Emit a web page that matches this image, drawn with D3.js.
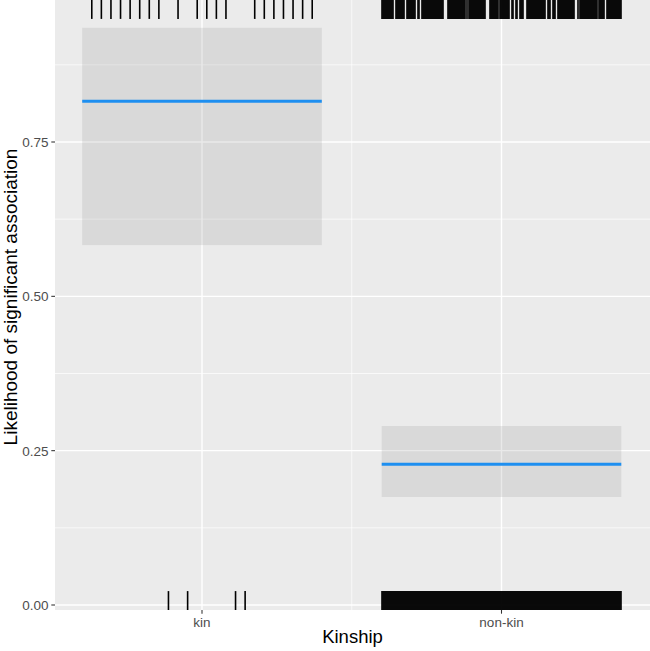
<!DOCTYPE html>
<html>
<head>
<meta charset="utf-8">
<script src="https://cdn.jsdelivr.net/npm/d3@7"></script>
<style>
  html, body { margin: 0; padding: 0; background: #ffffff; }
  svg { display: block; }
  text { font-family: "Liberation Sans", Arial, Helvetica, sans-serif; }
</style>
</head>
<body>
<script>
// ---------------- data ----------------
const categories = ["kin", "non-kin"];
const yTicks = [0, 0.25, 0.5, 0.75];
const yTickLabels = ["0.00", "0.25", "0.50", "0.75"];
const yMinorTicks = [0.125, 0.375, 0.625, 0.875];
const fitValues = [0.816, 0.228];
const ciLower = [0.583, 0.175];
const ciUpper = [0.935, 0.290];
const boxHalfWidth = [0.4, 0.4];
const jitterSpread = [0.368, 0.399];
// one character per jitter slot; "1" = an observation at that slot
const kinOnes  = "111111110101111001111111";
const kinZeros = "000000001010000110000000";
const nonKinOnes =
  "1111111111110011111111100111111111001100" +
  "1111111111111111111111000011111111111111" +
  "1111010111111111111111110000111111111011" +
  "1111111100110011001111000111111111111111" +
  "1111001110011100111111111111111110001011" +
  "1111111111111111011111100111111111111111";
const nonKinZeros =
  "1111111111111111111111111111111111111111" +
  "1111111111111111111111111111111111111111" +
  "1111111111111111111111111111111111111111" +
  "1111111111111111111111111111111111111111" +
  "1111111111111111111111111111111111111111" +
  "1111111111111111111111111111111111111111";
const onesByGroup = [kinOnes, nonKinOnes];
const zerosByGroup = [kinZeros, nonKinZeros];
const xTitle = "Kinship";
const yTitle = "Likelihood of significant association";

// ---------------- layout ----------------
const W = 650, H = 651;
const panel = { left: 55, right: 650, top: 0, bottom: 610 };

const svg = d3.select("body").append("svg")
  .attr("width", W).attr("height", H);

const x = d3.scaleLinear().domain([1, 2]).range([202, 501.5]);
const y = d3.scaleLinear().domain([0, 0.75]).range([605, 142]);

// panel background
svg.append("rect")
  .attr("x", panel.left).attr("y", panel.top)
  .attr("width", panel.right - panel.left)
  .attr("height", panel.bottom - panel.top)
  .attr("fill", "#EBEBEB");

const grid = svg.append("g");
// minor grid
grid.selectAll("line.ymin").data(yMinorTicks).enter().append("line")
  .attr("x1", panel.left).attr("x2", panel.right)
  .attr("y1", d => y(d)).attr("y2", d => y(d))
  .attr("stroke", "#ffffff").attr("stroke-width", 0.7);
grid.append("line")
  .attr("x1", x(1.5)).attr("x2", x(1.5))
  .attr("y1", panel.top).attr("y2", panel.bottom)
  .attr("stroke", "#ffffff").attr("stroke-width", 0.7);
// major grid
grid.selectAll("line.ymaj").data(yTicks).enter().append("line")
  .attr("x1", panel.left).attr("x2", panel.right)
  .attr("y1", d => y(d)).attr("y2", d => y(d))
  .attr("stroke", "#ffffff").attr("stroke-width", 1.4);
grid.selectAll("line.xmaj").data(categories).enter().append("line")
  .attr("x1", (d, i) => x(i + 1)).attr("x2", (d, i) => x(i + 1))
  .attr("y1", panel.top).attr("y2", panel.bottom)
  .attr("stroke", "#ffffff").attr("stroke-width", 1.4);

// confidence boxes
svg.append("g").selectAll("rect").data(categories).enter().append("rect")
  .attr("x", (d, i) => x(i + 1 - boxHalfWidth[i]))
  .attr("width", (d, i) => x(i + 1 + boxHalfWidth[i]) - x(i + 1 - boxHalfWidth[i]))
  .attr("y", (d, i) => y(ciUpper[i]))
  .attr("height", (d, i) => y(ciLower[i]) - y(ciUpper[i]))
  .attr("fill", "#999999").attr("fill-opacity", 0.22);

// fitted lines
svg.append("g").selectAll("line").data(categories).enter().append("line")
  .attr("x1", (d, i) => x(i + 1 - boxHalfWidth[i]))
  .attr("x2", (d, i) => x(i + 1 + boxHalfWidth[i]))
  .attr("y1", (d, i) => y(fitValues[i]))
  .attr("y2", (d, i) => y(fitValues[i]))
  .attr("stroke", "#1E8FF0").attr("stroke-width", 3);

// rugs
const rugLen = 0.031 * (panel.bottom - panel.top);
function slotPositions(pattern, gi) {
  const n = pattern.length;
  const out = [];
  for (let k = 0; k < n; k++) {
    if (pattern[k] === "1") {
      out.push(gi + 1 - jitterSpread[gi] + 2 * jitterSpread[gi] * k / (n - 1));
    }
  }
  return out;
}
const rug = svg.append("g").attr("stroke", "#000000").attr("stroke-width", 1.6);
categories.forEach((c, gi) => {
  const top = slotPositions(onesByGroup[gi], gi);
  const bot = slotPositions(zerosByGroup[gi], gi);
  rug.selectAll(null).data(top).enter().append("line")
    .attr("x1", d => x(d)).attr("x2", d => x(d))
    .attr("y1", panel.top).attr("y2", panel.top + rugLen);
  rug.selectAll(null).data(bot).enter().append("line")
    .attr("x1", d => x(d)).attr("x2", d => x(d))
    .attr("y1", panel.bottom).attr("y2", panel.bottom - rugLen);
});

// axes
const axisG = svg.append("g");
axisG.selectAll("line.yt").data(yTicks).enter().append("line")
  .attr("x1", panel.left - 3.7).attr("x2", panel.left)
  .attr("y1", d => y(d)).attr("y2", d => y(d))
  .attr("stroke", "#333333").attr("stroke-width", 1.07);
axisG.selectAll("text.yl").data(yTicks).enter().append("text")
  .attr("x", panel.left - 6.5).attr("y", d => y(d))
  .attr("dy", "0.36em")
  .attr("text-anchor", "end")
  .attr("font-size", "13.5px").attr("fill", "#4D4D4D")
  .text((d, i) => yTickLabels[i]);
axisG.selectAll("line.xt").data(categories).enter().append("line")
  .attr("x1", (d, i) => x(i + 1)).attr("x2", (d, i) => x(i + 1))
  .attr("y1", panel.bottom).attr("y2", panel.bottom + 3.7)
  .attr("stroke", "#333333").attr("stroke-width", 1.07);
axisG.selectAll("text.xl").data(categories).enter().append("text")
  .attr("x", (d, i) => x(i + 1)).attr("y", panel.bottom + 16.5)
  .attr("text-anchor", "middle")
  .attr("font-size", "13.5px").attr("fill", "#4D4D4D")
  .text(d => d);

// titles
svg.append("text")
  .attr("x", (panel.left + panel.right) / 2).attr("y", 643)
  .attr("text-anchor", "middle")
  .attr("font-size", "18.5px").attr("fill", "#000000")
  .text(xTitle);
svg.append("text")
  .attr("transform", "translate(16.5, 297) rotate(-90)")
  .attr("text-anchor", "middle")
  .attr("font-size", "19px").attr("fill", "#000000")
  .text(yTitle);
</script>
</body>
</html>
